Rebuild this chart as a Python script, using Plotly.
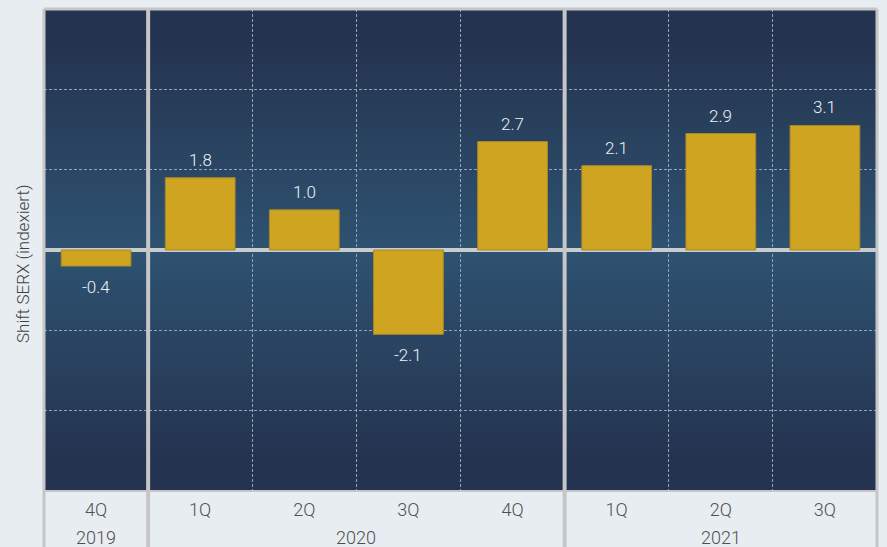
import plotly.graph_objects as go

quarters = ["4Q", "1Q", "2Q", "3Q", "4Q", "1Q", "2Q", "3Q"]
years = ["2019", "2020", "2020", "2020", "2020", "2021", "2021", "2021"]
values = [-0.4, 1.8, 1.0, -2.1, 2.7, 2.1, 2.9, 3.1]
y_title = "Shift SERX (indexiert)"

categories = [f"{q} {y}" for q, y in zip(quarters, years)]

BAR = "#cfa421"
FONT = "Roboto"
W, H = 887, 547
ML, MR, MT, MB = 44, 10, 9, 56
PW, PH = W - ML - MR, H - MT - MB

fig = go.Figure()
fig.add_trace(go.Bar(
    x=categories, y=values,
    marker=dict(color=BAR, line=dict(color="#a8872a", width=1)),
    width=0.67, hoverinfo="skip",
))

annotations = []
# value labels
for c, v in zip(categories, values):
    annotations.append(dict(
        x=c, y=v, xref="x", yref="y", text=f"{v:.1f}", showarrow=False,
        yanchor="bottom" if v >= 0 else "top", yshift=6 if v >= 0 else -9,
        font=dict(size=17, color="#eef2f6", family=FONT, weight=300),
    ))
# year labels centred under their groups
uniq_years = list(dict.fromkeys(years))
for yr in uniq_years:
    idx = [i for i, y in enumerate(years) if y == yr]
    annotations.append(dict(
        x=sum(idx) / len(idx), y=-(537 - (MT + PH)) / PH, xref="x", yref="paper",
        text=yr, showarrow=False, xanchor="center", yanchor="middle",
        font=dict(size=18, color="#505050", family=FONT, weight=300),
    ))
annotations.append(dict(
    text=y_title, textangle=-90, xref="paper", yref="paper",
    x=-21 / PW, y=(MT + PH - 264) / PH, xanchor="center", yanchor="middle",
    showarrow=False, font=dict(size=17, color="#404040", family=FONT, weight=300),
))

# vertical gradient background of plot area
def lerp(c1, c2, t):
    return "#%02x%02x%02x" % tuple(int(round(a + (b - a) * t)) for a, b in zip(c1, c2))
dark = (0x24, 0x33, 0x4f)
light = (0x2e, 0x52, 0x71)
shapes = []
N = 80
for i in range(N):
    y0 = i / N
    y1 = (i + 1) / N
    mid = (y0 + y1) / 2
    t = 1 - abs(mid - 0.5) * 2
    t = max(0.0, min(1.0, (t - 0.12) / 0.88))
    shapes.append(dict(type="rect", xref="paper", yref="paper", x0=0, x1=1,
                       y0=y0, y1=y1 + 0.002, fillcolor=lerp(dark, light, t),
                       line=dict(width=0), layer="below"))

# year separators (through plot and label area)
bottom = -MB / PH
sep_x = [i - 0.5 for i in range(1, len(years)) if years[i] != years[i - 1]]
for xp in sep_x:
    shapes.append(dict(type="line", xref="x", yref="paper", x0=xp, x1=xp,
                       y0=bottom, y1=1, line=dict(color="#c6c6c6", width=4), layer="above"))
for xp in [0, 1]:
    shapes.append(dict(type="line", xref="paper", yref="paper", x0=xp, x1=xp,
                       y0=bottom, y1=1, line=dict(color="#c6c6c6", width=3), layer="above"))
shapes.append(dict(type="line", xref="paper", yref="paper", x0=0, x1=1, y0=1, y1=1,
                   line=dict(color="#c6c6c6", width=3), layer="above"))
shapes.append(dict(type="line", xref="paper", yref="paper", x0=0, x1=1, y0=0, y1=0,
                   line=dict(color="#c6c6c6", width=2), layer="above"))

fig.update_layout(
    width=W, height=H,
    margin=dict(l=ML, r=MR, t=MT, b=MB),
    paper_bgcolor="#e7edf1",
    plot_bgcolor="#24334f",
    showlegend=False,
    shapes=shapes,
    annotations=annotations,
    font=dict(family=FONT, color="#505050", size=18),
    xaxis=dict(
        type="category", tickson="boundaries", showgrid=True,
        tickmode="array", tickvals=categories, ticktext=quarters,
        gridcolor="#95a3b6", griddash="3px,2px", gridwidth=1,
        ticks="", showline=False, ticklabelstandoff=6,
        tickfont=dict(size=18, color="#505050", family=FONT, weight=300),
    ),
    yaxis=dict(
        range=[-6, 6], dtick=2, showticklabels=False, ticks="",
        showgrid=True, gridcolor="#95a3b6", griddash="3px,2px", gridwidth=1,
        zeroline=True, zerolinecolor="#cccccc", zerolinewidth=4, showline=False,
    ),
)

fig.write_html(
    "out.html",
    config={"displayModeBar": False},
    post_script="document.body.style.margin='0';document.body.style.overflow='hidden';"
                "document.body.style.background='#e7edf1';",
)
